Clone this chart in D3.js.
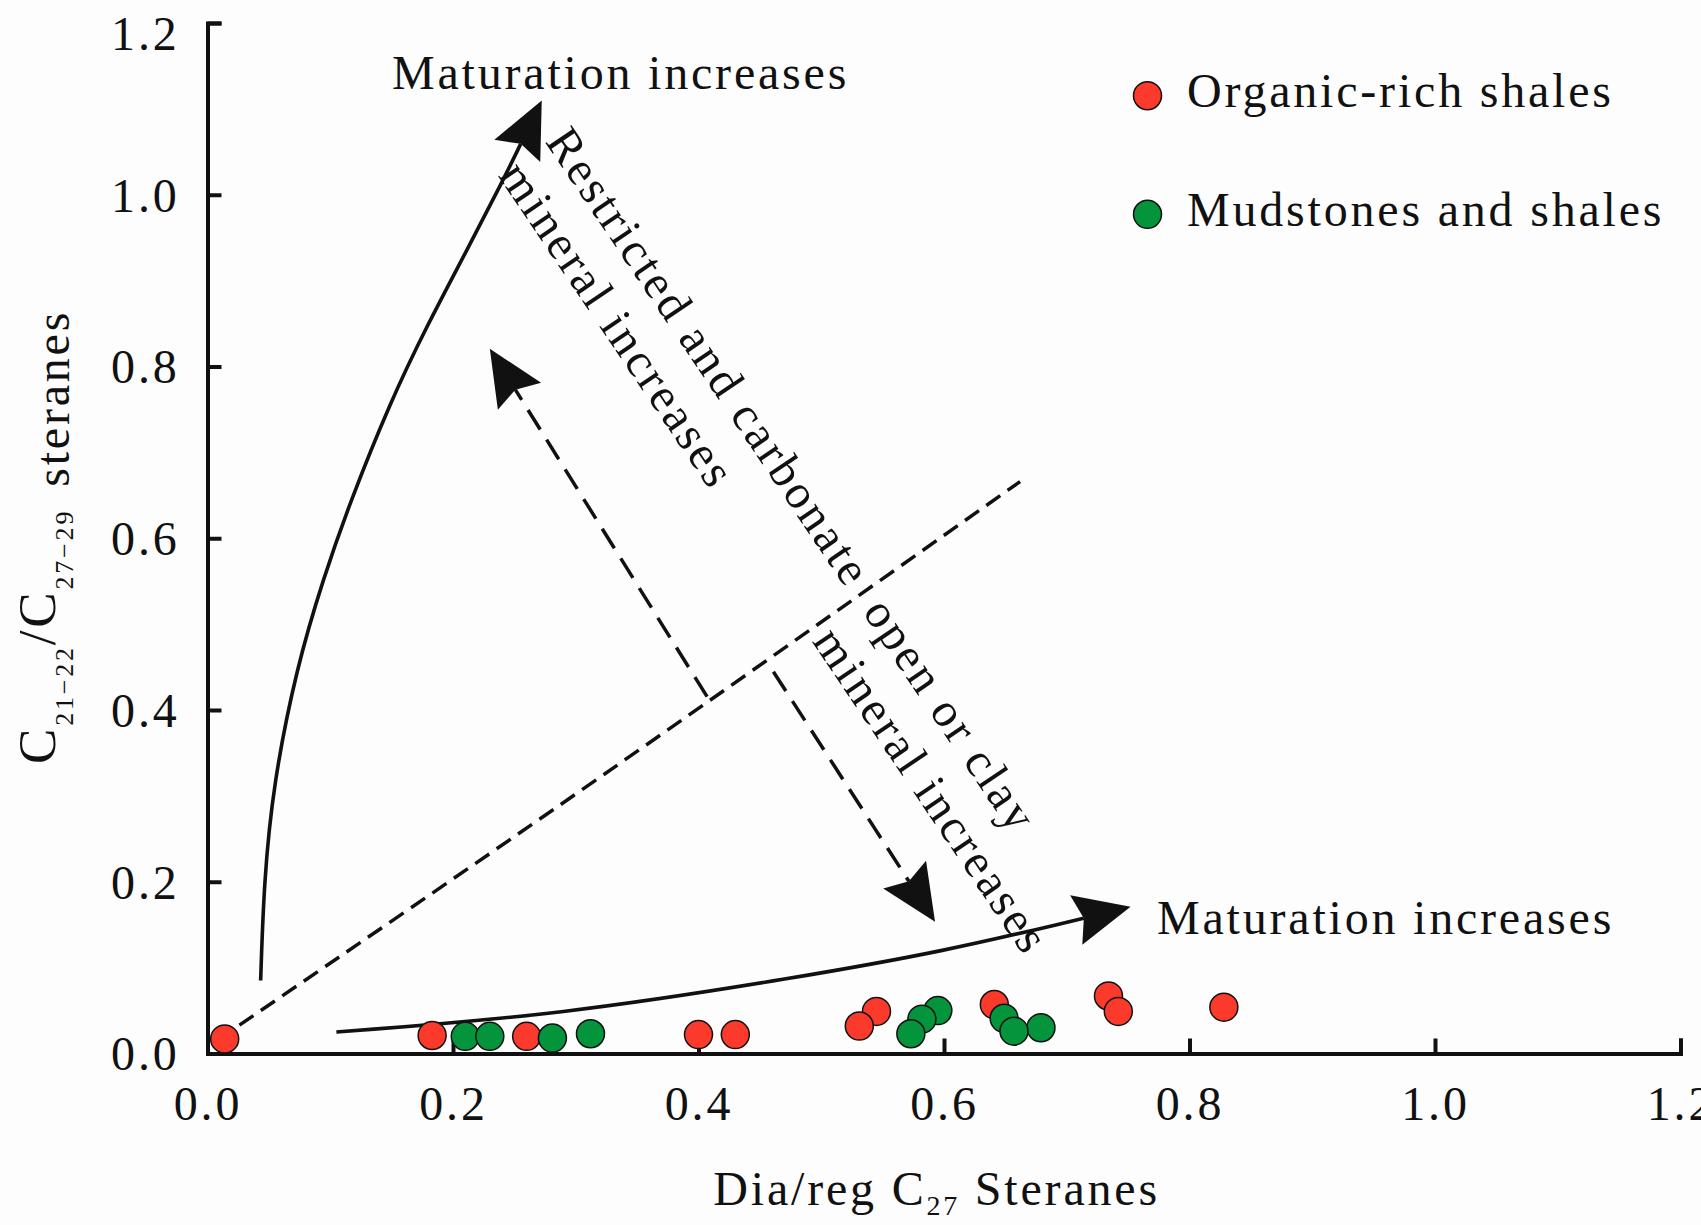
<!DOCTYPE html>
<html>
<head>
<meta charset="utf-8">
<title>C21-22/C27-29 steranes vs Dia/reg C27 steranes</title>
<style>
  html, body { margin: 0; padding: 0; background: #fdfdfd; }
  svg { display: block; font-family: "Liberation Serif", "Times New Roman", serif; }
</style>
</head>
<body>
<svg width="1701" height="1225"></svg>
<script src="https://cdn.jsdelivr.net/npm/d3@7"></script>
<script>
// [dia/reg C27 steranes, C21-22/C27-29 steranes]
const organicRich = [
  [0.014, 0.017], [0.183, 0.021], [0.260, 0.020], [0.400, 0.022], [0.430, 0.022],
  [0.531, 0.032], [0.545, 0.049], [0.641, 0.057], [0.734, 0.067], [0.742, 0.049],
  [0.828, 0.054]
];
const mudstones = [
  [0.210, 0.020], [0.230, 0.020], [0.281, 0.018], [0.312, 0.023], [0.573, 0.023],
  [0.582, 0.040], [0.595, 0.050], [0.649, 0.041], [0.657, 0.026], [0.679, 0.030]
];
const xTicks = [0, 0.2, 0.4, 0.6, 0.8, 1.0, 1.2];
const yTicks = [0, 0.2, 0.4, 0.6, 0.8, 1.0, 1.2];

// guide lines
const upperMaturation = [
  [0.0433, 0.085], [0.0460, 0.200], [0.0536, 0.314], [0.0727, 0.450], [0.0943, 0.553],
  [0.1161, 0.642], [0.1487, 0.758], [0.1786, 0.847], [0.2112, 0.935], [0.2410, 1.0175]
];
const upperMaturationTip = [0.2723, 1.1097];
const lowerMaturation = [
  [0.105, 0.025], [0.288, 0.045], [0.483, 0.089], [0.600, 0.119], [0.708, 0.1555]
];
const lowerMaturationTip = [0.752, 0.171];
const divideLine = [[0.026, 0.033], [0.320, 0.322], [0.662, 0.666]];
const carbonateArrow = [[0.407, 0.4155], [0.230, 0.8206]];
const clayArrow = [[0.461, 0.4446], [0.5927, 0.1535]];

const svg = d3.select('svg');
const ink = '#111';
const red = '#fb3a2b';
const green = '#04943c';
const fs = 48;
const ls = 2.8;

const x = d3.scaleLinear().domain([0, 1.2]).range([207.5, 1680.5]);
const y = d3.scaleLinear().domain([0, 1.2]).range([1053.5, 23]);
const P = d => [x(d[0]), y(d[1])];

// axes (ticks point inward)
const gx = svg.append('g')
  .attr('transform', `translate(0,${y(0)})`)
  .call(d3.axisBottom(x).tickValues(xTicks).tickFormat(d3.format('.1f'))
    .tickSize(-15).tickPadding(32));
const gy = svg.append('g')
  .attr('transform', `translate(${x(0)},0)`)
  .call(d3.axisLeft(y).tickValues(yTicks).tickFormat(d3.format('.1f'))
    .tickSize(-14).tickPadding(28));
[gx, gy].forEach(g => {
  g.attr('font-family', null).attr('font-size', fs);
  g.selectAll('path, line').attr('stroke', ink).attr('stroke-width', 4);
  g.selectAll('text')
    .attr('letter-spacing', ls)
    .attr('fill', ink);
});
gy.selectAll('text').attr('dy', d => d === 1.2 ? '0.55em' : '0.34em');

// stealth arrow head at tip, pointing away from "from"
const headLen = 56, headHalf = 25.5, notchK = 0.86;
function unit (tip, from) {
  const dx = tip[0] - from[0], dy = tip[1] - from[1];
  const len = Math.hypot(dx, dy);
  return [dx / len, dy / len];
}
function notchOf (tip, from) {
  const [ux, uy] = unit(tip, from);
  return [tip[0] - notchK * headLen * ux, tip[1] - notchK * headLen * uy];
}
function head (tip, from) {
  const [ux, uy] = unit(tip, from);
  const bx = tip[0] - headLen * ux, by = tip[1] - headLen * uy;
  const n = notchOf(tip, from);
  return `M${tip[0]},${tip[1]}L${bx - headHalf * uy},${by + headHalf * ux}L${n[0]},${n[1]}L${bx + headHalf * uy},${by - headHalf * ux}Z`;
}

const smooth = d3.line().curve(d3.curveBasis);
const straightish = d3.line().curve(d3.curveNatural);
const guides = svg.append('g').attr('fill', 'none').attr('stroke', ink);

// solid maturation curves
[[upperMaturation, upperMaturationTip], [lowerMaturation, lowerMaturationTip]].forEach(([pts, tip]) => {
  const px = pts.map(P);
  const last = px[px.length - 1];
  const t = P(tip);
  guides.append('path')
    .attr('d', smooth([...px, notchOf(t, last)]))
    .attr('stroke-width', 3.6);
  guides.append('path')
    .attr('d', head(t, last))
    .attr('fill', ink)
    .attr('stroke', 'none');
});

// dashed divide line
guides.append('path')
  .attr('d', straightish(divideLine.map(P)))
  .attr('stroke-width', 3.5)
  .attr('stroke-dasharray', '17 9');

// dashed arrows
[carbonateArrow, clayArrow].forEach(([s, t]) => {
  const a = P(s), b = P(t);
  guides.append('path')
    .attr('d', d3.line()([a, notchOf(b, a)]))
    .attr('stroke-width', 3.5)
    .attr('stroke-dasharray', '23 12');
  guides.append('path')
    .attr('d', head(b, a))
    .attr('fill', ink)
    .attr('stroke', 'none');
});

// points: lower ones drawn on top
const series = [
  { key: 'Organic-rich shales', color: red, data: organicRich },
  { key: 'Mudstones and shales', color: green, data: mudstones }
];
series.forEach(s => {
  svg.append('g').selectAll('circle')
    .data(s.data.slice().sort((a, b) => b[1] - a[1]))
    .join('circle')
      .attr('cx', d => x(d[0]))
      .attr('cy', d => y(d[1]))
      .attr('r', 14)
      .attr('fill', s.color)
      .attr('stroke', ink)
      .attr('stroke-width', 1.5);
});

// legend
const lg = svg.append('g').selectAll('g').data(series).join('g')
  .attr('transform', (d, i) => `translate(1147.5,${95.7 + i * 118.6})`);
lg.append('circle')
  .attr('r', 14)
  .attr('fill', d => d.color)
  .attr('stroke', ink)
  .attr('stroke-width', 1.5);
lg.append('text')
  .attr('x', 39.5)
  .attr('y', 11.6)
  .attr('font-size', fs)
  .attr('letter-spacing', ls)
  .attr('fill', ink)
  .text(d => d.key);

// annotations
const note = (px, py, txt) => svg.append('text')
  .attr('x', px).attr('y', py)
  .attr('font-size', fs)
  .attr('letter-spacing', ls)
  .attr('fill', ink)
  .text(txt);
note(x(0.1503), y(1.1231), 'Maturation increases');
note(x(0.7735), y(0.1388), 'Maturation increases');

const rot = svg.append('g')
  .attr('transform', `translate(${x(0.2745)},${y(1.062)}) rotate(56)`)
  .attr('font-size', fs)
  .attr('letter-spacing', ls)
  .attr('fill', ink);
const line1 = rot.append('text');
line1.append('tspan').text('Restricted and carbonate');
line1.append('tspan').attr('dx', 26).text('open or clay');
const split = line1.node().getSubStringLength(0, 'Restricted and carbonate'.length) + 26;
rot.append('text').attr('x', 2).attr('y', 58).text('mineral increases');
rot.append('text').attr('x', split - 4).attr('y', 58).text('mineral increases');

// axis titles
const xt = svg.append('text')
  .attr('x', 936.6).attr('y', 1205)
  .attr('text-anchor', 'middle')
  .attr('font-size', fs)
  .attr('letter-spacing', ls)
  .attr('fill', ink);
xt.append('tspan').text('Dia/reg C');
xt.append('tspan').attr('font-size', 28).attr('dy', 10).text('27');
xt.append('tspan').attr('dy', -10).text(' Steranes');

const yt = svg.append('text')
  .attr('transform', 'translate(69,764) rotate(-90)')
  .attr('font-size', fs)
  .attr('letter-spacing', ls)
  .attr('fill', ink);
yt.append('tspan').attr('font-size', 53).attr('dy', -14).text('C');
yt.append('tspan').attr('font-size', 26).attr('dy', 18).text('21−22');
yt.append('tspan').attr('font-size', 53).attr('dy', -18).text('/C');
yt.append('tspan').attr('font-size', 26).attr('dy', 18).text('27−29');
yt.append('tspan').attr('dy', -4).attr('dx', 22).text('steranes');
</script>
</body>
</html>
